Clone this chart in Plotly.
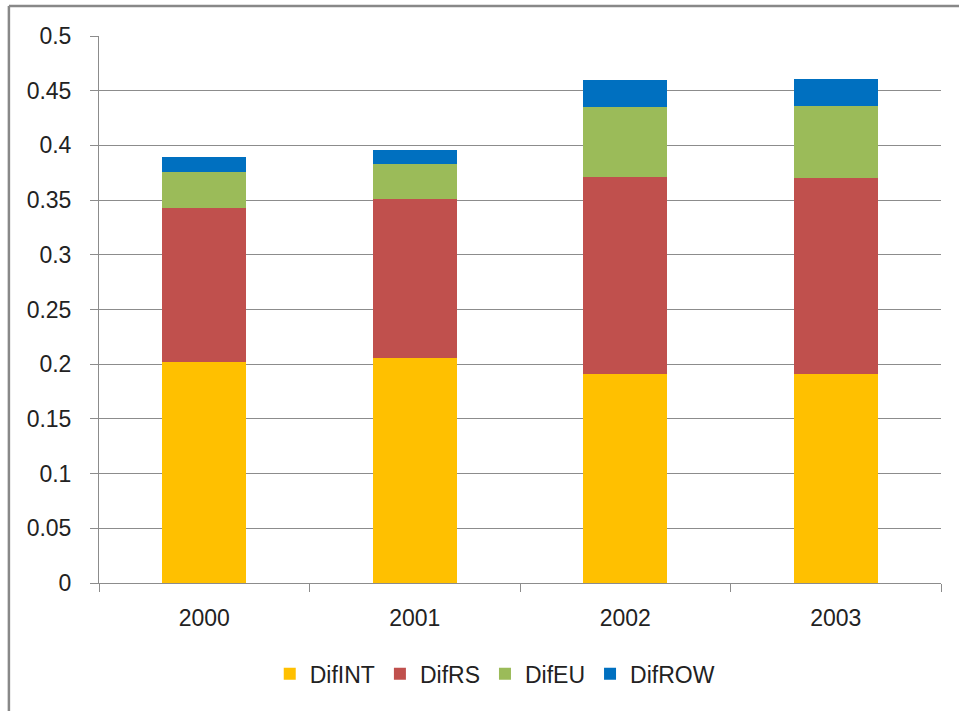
import plotly.graph_objects as go

years = ['2000', '2001', '2002', '2003']
dif_int = [0.202, 0.206, 0.191, 0.191]
dif_rs = [0.141, 0.145, 0.180, 0.179]
dif_eu = [0.033, 0.032, 0.064, 0.066]
dif_row = [0.013, 0.013, 0.025, 0.025]

y_ticks = [0, 0.05, 0.1, 0.15, 0.2, 0.25, 0.3, 0.35, 0.4, 0.45, 0.5]
y_labels = ['0', '0.05', '0.1', '0.15', '0.2', '0.25', '0.3', '0.35', '0.4', '0.45', '0.5']

FONT = 'Liberation Sans, Arial, sans-serif'
GRID = '#8c8c8c'

fig = go.Figure()

series = [
    ('DifINT', dif_int, '#FFC000'),
    ('DifRS', dif_rs, '#C0504D'),
    ('DifEU', dif_eu, '#9BBB59'),
    ('DifROW', dif_row, '#0070C0'),
]
for name, vals, color in series:
    fig.add_trace(go.Bar(
        name=name,
        x=years,
        y=vals,
        marker=dict(color=color, line=dict(width=0)),
    ))

fig.update_layout(
    barmode='stack',
    bargap=0.6,
    width=959,
    height=711,
    margin=dict(l=99, r=18, t=36, b=128),
    paper_bgcolor='white',
    plot_bgcolor='white',
    font=dict(family=FONT, size=23, color='#222222'),
    showlegend=True,
    legend=dict(
        orientation='h',
        x=0.47, xanchor='center',
        y=-0.166, yanchor='middle',
        font=dict(size=23, color='#222222'),
        itemwidth=30,
        traceorder='normal',
    ),
    xaxis=dict(
        type='category',
        showgrid=False,
        showline=True,
        linecolor=GRID,
        linewidth=1,
        ticks='outside',
        tickson='boundaries',
        ticklen=8,
        tickcolor=GRID,
        ticklabelstandoff=14,
        zeroline=False,
    ),
    yaxis=dict(
        range=[0, 0.5],
        tickvals=y_ticks,
        ticktext=y_labels,
        showgrid=True,
        gridcolor=GRID,
        gridwidth=1,
        showline=True,
        linecolor=GRID,
        linewidth=1,
        ticks='outside',
        ticklen=8,
        tickcolor=GRID,
        ticklabelstandoff=14,
        zeroline=False,
    ),
    shapes=[
        dict(type='line', xref='paper', yref='paper',
             x0=-0.107, x1=1.1, y0=1.055, y1=1.055,
             line=dict(color='#888888', width=2.5)),
        dict(type='line', xref='paper', yref='paper',
             x0=-0.107, x1=-0.107, y0=1.055, y1=-0.3,
             line=dict(color='#888888', width=2.5)),
    ],
)

# page body has a default 8px margin; drop it so the figure sits at 0,0
fig.write_html(
    "out.html",
    config={'displayModeBar': False},
    post_script="document.body.style.margin='0';",
)
